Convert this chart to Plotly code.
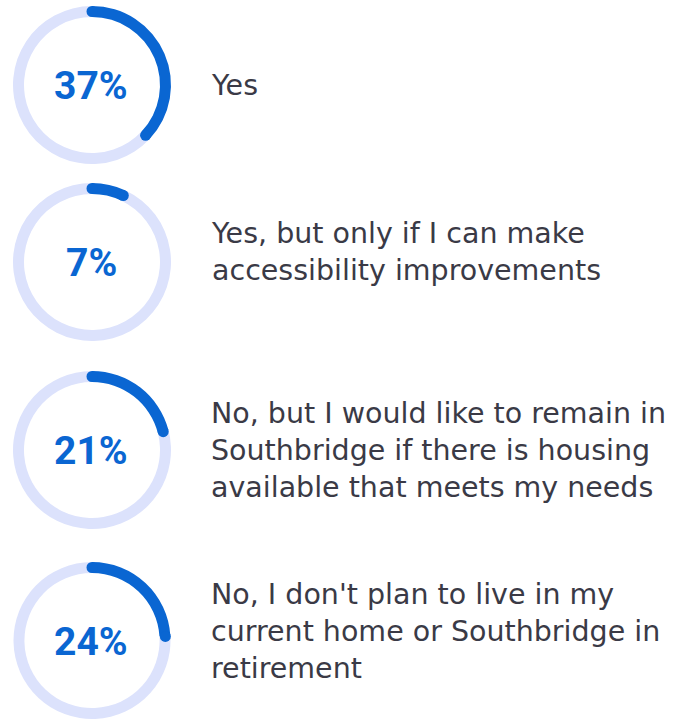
import numpy as np
import plotly.graph_objects as go

W, H = 694, 719

# ---- data ----
answers = [
    ["Yes"],
    ["Yes, but only if I can make", "accessibility improvements"],
    ["No, but I would like to remain in", "Southbridge if there is housing",
     "available that meets my needs"],
    ["No, I don't plan to live in my", "current home or Southbridge in",
     "retirement"],
]
percents = [37, 7, 21, 24]

# ---- layout helpers (pixels) ----
CX = 92
CYS = [85, 262, 450, 641]
LABEL_CY = [85, 251.5, 450.5, 631]
R_OUT = 79
RING_W = 11
BLUE = "#0a66d2"
TRACK = "#dce2fc"

fig = go.Figure()

for v, cy in zip(percents, CYS):
    x0 = (CX - R_OUT) / W
    x1 = (CX + R_OUT) / W
    y0 = max(0.0, 1 - (cy + R_OUT) / H)
    y1 = min(1.0, 1 - (cy - R_OUT) / H)
    fig.add_trace(go.Pie(
        values=[v, 100 - v],
        marker=dict(colors=[BLUE, TRACK], line=dict(width=0)),
        hole=(R_OUT - RING_W) / R_OUT,
        sort=False, direction="clockwise", rotation=0,
        textinfo="none", hoverinfo="none", showlegend=False,
        domain=dict(x=[x0, x1], y=[y0, y1]),
    ))

# round caps for the arcs
rm = R_OUT - RING_W / 2
shapes = []
for v, cy in zip(percents, CYS):
    for ang in (0.0, 2 * np.pi * v / 100):
        px = CX + rm * np.sin(ang)
        py = cy - rm * np.cos(ang)
        shapes.append(dict(type="circle", xref="x", yref="y", layer="above",
                           x0=px - RING_W / 2, x1=px + RING_W / 2,
                           y0=py - RING_W / 2, y1=py + RING_W / 2,
                           fillcolor=BLUE, line=dict(width=0)))

annotations = []
for v, cy in zip(percents, CYS):
    annotations.append(dict(x=CX - 1, y=cy + 1, xref="x", yref="y", text=f"<b>{v}%</b>",
                            showarrow=False, xanchor="center", yanchor="middle",
                            font=dict(family="Roboto", size=39, color=BLUE)))
for lines, lc in zip(answers, LABEL_CY):
    annotations.append(dict(x=209, y=lc, xref="x", yref="y", text="<br>".join(lines),
                            align="left", showarrow=False, xanchor="left", yanchor="middle",
                            font=dict(family="DejaVu Sans", size=28.5, weight=400,
                                      color="#3a3a46")))

fig.update_layout(
    width=W, height=H,
    margin=dict(l=0, r=0, t=0, b=0),
    paper_bgcolor="white", plot_bgcolor="rgba(0,0,0,0)",
    xaxis=dict(range=[0, W], visible=False, fixedrange=True),
    yaxis=dict(range=[H, 0], visible=False, fixedrange=True),
    shapes=shapes, annotations=annotations,
    showlegend=False,
)

fig.write_html("out.html", config={"displayModeBar": False},
               post_script="document.body.style.margin='0';")
